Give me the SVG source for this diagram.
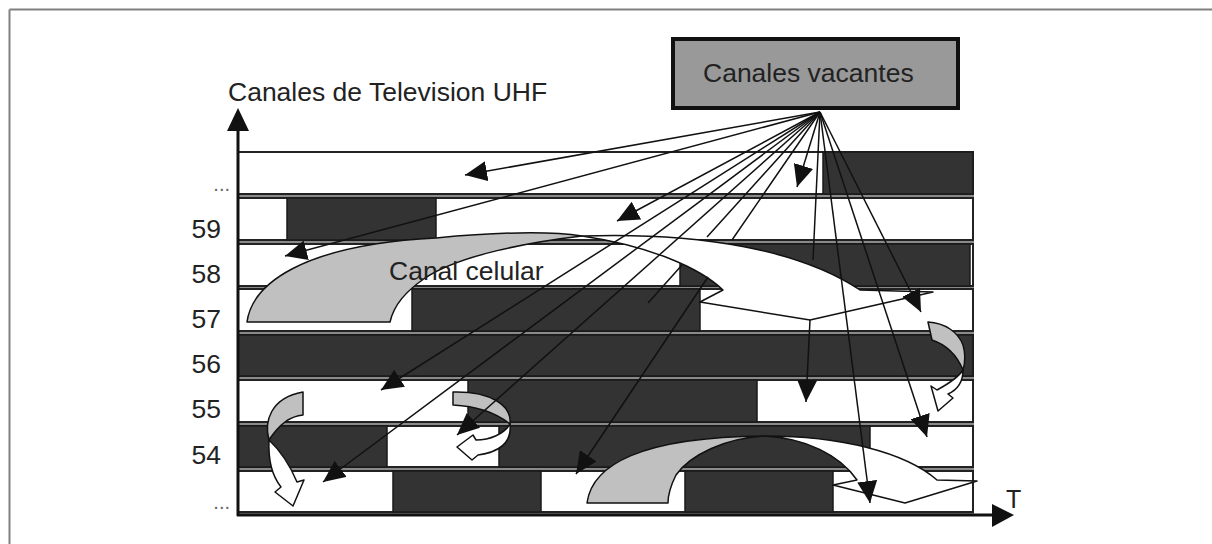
<svg xmlns="http://www.w3.org/2000/svg" width="1212" height="544" viewBox="0 0 1212 544">
<defs>
<style>
.lbl{font-family:"Liberation Sans",Arial,sans-serif;font-size:26.5px;fill:#222}
.dots{font-family:"Liberation Sans",Arial,sans-serif;font-size:20px;fill:#666}
.row{fill:#fff;stroke:#222;stroke-width:2}
.blk{fill:#333;stroke:#1a1a1a;stroke-width:1.5}
.ax{stroke:#111;stroke-width:3;fill:none}
.conn{stroke:#111;stroke-width:1.5;fill:none}
.ga{fill:#c0c0c0;stroke:#111;stroke-width:1.5;stroke-linejoin:round}
.wa{fill:#fff;stroke:#111;stroke-width:1.5;stroke-linejoin:round}
</style>
<marker id="ah" viewBox="0 0 22 20" markerWidth="22" markerHeight="20" refX="22" refY="10" orient="auto" markerUnits="userSpaceOnUse">
<path d="M0,0 L22,10 L0,20 z" fill="#111"/>
</marker>
</defs>
<rect width="1212" height="544" fill="#fff"/>
<g id="frame">
<line x1="9.5" y1="9.5" x2="1212" y2="9.5" stroke="#808080" stroke-width="2"/>
<line x1="9.5" y1="9.5" x2="9.5" y2="544" stroke="#808080" stroke-width="2"/>
</g>
<g id="labels">
<text class="lbl" x="228" y="101">Canales de Television UHF</text>
<text class="dots" x="230" y="191" text-anchor="end">...</text>
<text class="lbl" x="221" y="238" text-anchor="end">59</text>
<text class="lbl" x="221" y="283" text-anchor="end">58</text>
<text class="lbl" x="221" y="328" text-anchor="end">57</text>
<text class="lbl" x="221" y="373" text-anchor="end">56</text>
<text class="lbl" x="221" y="418" text-anchor="end">55</text>
<text class="lbl" x="221" y="464" text-anchor="end">54</text>
<text class="dots" x="230" y="509" text-anchor="end">...</text>
<text class="lbl" x="1006" y="508" style="font-size:25px">T</text>
</g>
<g id="rows">
<rect x="237" y="151" width="737" height="363" fill="#8a8a8a"/>
<rect class="row" x="238" y="152" width="735" height="42"/>
<rect class="blk" x="823" y="152" width="150" height="42"/>
<rect class="row" x="238" y="198" width="735" height="42"/>
<rect class="blk" x="287" y="198" width="149" height="42"/>
<rect class="row" x="238" y="244" width="735" height="42"/>
<rect class="blk" x="680" y="244" width="290" height="42"/>
<rect class="row" x="238" y="289" width="735" height="42"/>
<rect class="blk" x="412" y="289" width="288" height="42"/>
<rect class="row" x="238" y="335" width="735" height="41"/>
<rect class="blk" x="238" y="335" width="735" height="41"/>
<rect class="row" x="238" y="380" width="735" height="42"/>
<rect class="blk" x="468" y="380" width="289" height="42"/>
<rect class="row" x="238" y="426" width="735" height="41"/>
<rect class="blk" x="238" y="426" width="149" height="41"/>
<rect class="blk" x="499" y="426" width="371" height="41"/>
<rect class="row" x="238" y="471" width="735" height="41"/>
<rect class="blk" x="393" y="471" width="148" height="41"/>
<rect class="blk" x="685" y="471" width="148" height="41"/>
</g>
<g id="axes">
<line class="ax" x1="238" y1="516" x2="238" y2="128"/>
<polygon points="238,108 227,131 249,131" fill="#111"/>
<line class="ax" x1="237" y1="515" x2="995" y2="515"/>
<polygon points="1014,515 992,504 992,527" fill="#111"/>
</g>
<g id="arrow-canal-celular">
<path class="ga" d="M247,322 C252,285 300,245 436,238 C500,232 550,231 582,236 C530,242 460,255 425,278 C405,292 394,305 390,322 Z"/>
<path class="wa" d="M582,236 C700,232 800,250 860,290 L933,292 L810,320 L700,302 L723,290 C700,268 650,246 582,236 Z"/>
</g>
<g id="arrow-bottom">
<path class="ga" d="M587,503 C592,465 640,437 765,436 C725,438 690,455 676,475 C671,485 668,495 668,503 Z"/>
<path class="wa" d="M765,436 C840,436 905,452 937,480 L977,481 L905,503 L833,485 L857,480 C840,455 805,438 765,436 Z"/>
</g>
<g id="arrow-small-left">
<path class="ga" d="M303,392 L303,415 C290,416 278,426 269,440 C264,422 270,398 303,392 Z"/>
<path class="wa" d="M269,440 C268,462 273,477 281,487 L275,492 L293,506 L304,480 L297,482 C292,470 285,455 269,440 Z"/>
</g>
<g id="arrow-small-mid">
<path class="ga" d="M453,392 L453,405 C475,406 495,412 510,424 C512,405 490,391 453,392 Z"/>
<path class="wa" d="M510,424 C512,442 500,452 478,455 L472,460 L457,447 L473,435 L476,440 C490,440 504,434 510,424 Z"/>
</g>
<g id="arrow-small-right">
<path class="ga" d="M928,322 C945,323 958,332 963,345 C966,355 965,363 963,370 C958,358 950,346 932,340 Z"/>
<path class="wa" d="M963,370 C963,382 957,390 948,394 L953,398 L938,411 L931,386 L937,390 C948,384 958,378 963,370 Z"/>
</g>
<g id="connectors">
<line class="conn" x1="820" y1="112" x2="465" y2="175" marker-end="url(#ah)"/>
<line class="conn" x1="820" y1="112" x2="285" y2="256" marker-end="url(#ah)"/>
<line class="conn" x1="820" y1="112" x2="797" y2="187" marker-end="url(#ah)"/>
<line class="conn" x1="820" y1="112" x2="617" y2="221" marker-end="url(#ah)"/>
<line class="conn" x1="820" y1="112" x2="381" y2="390" marker-end="url(#ah)"/>
<line class="conn" x1="820" y1="112" x2="323" y2="482" marker-end="url(#ah)"/>
<line class="conn" x1="820" y1="112" x2="457" y2="435" marker-end="url(#ah)"/>
<path class="conn" d="M820,112 L707,237 M682,265 L648,303"/>
<path class="conn" d="M820,112 L732,240 M708,277 L576,474" marker-end="url(#ah)"/>
<path class="conn" d="M820,112 L813,260 M810,320 L806,402" marker-end="url(#ah)"/>
<line class="conn" x1="820" y1="112" x2="870" y2="503" marker-end="url(#ah)"/>
<line class="conn" x1="820" y1="112" x2="927" y2="437" marker-end="url(#ah)"/>
<line class="conn" x1="820" y1="112" x2="921" y2="312" marker-end="url(#ah)"/>
</g>
<g id="canal-celular-label">
<text class="lbl" x="389" y="280">Canal celular</text>
</g>
<g id="node-canales-vacantes">
<rect x="673" y="39" width="285" height="69" fill="#999" stroke="#111" stroke-width="4"/>
<text class="lbl" x="703" y="82">Canales vacantes</text>
</g>
</svg>
